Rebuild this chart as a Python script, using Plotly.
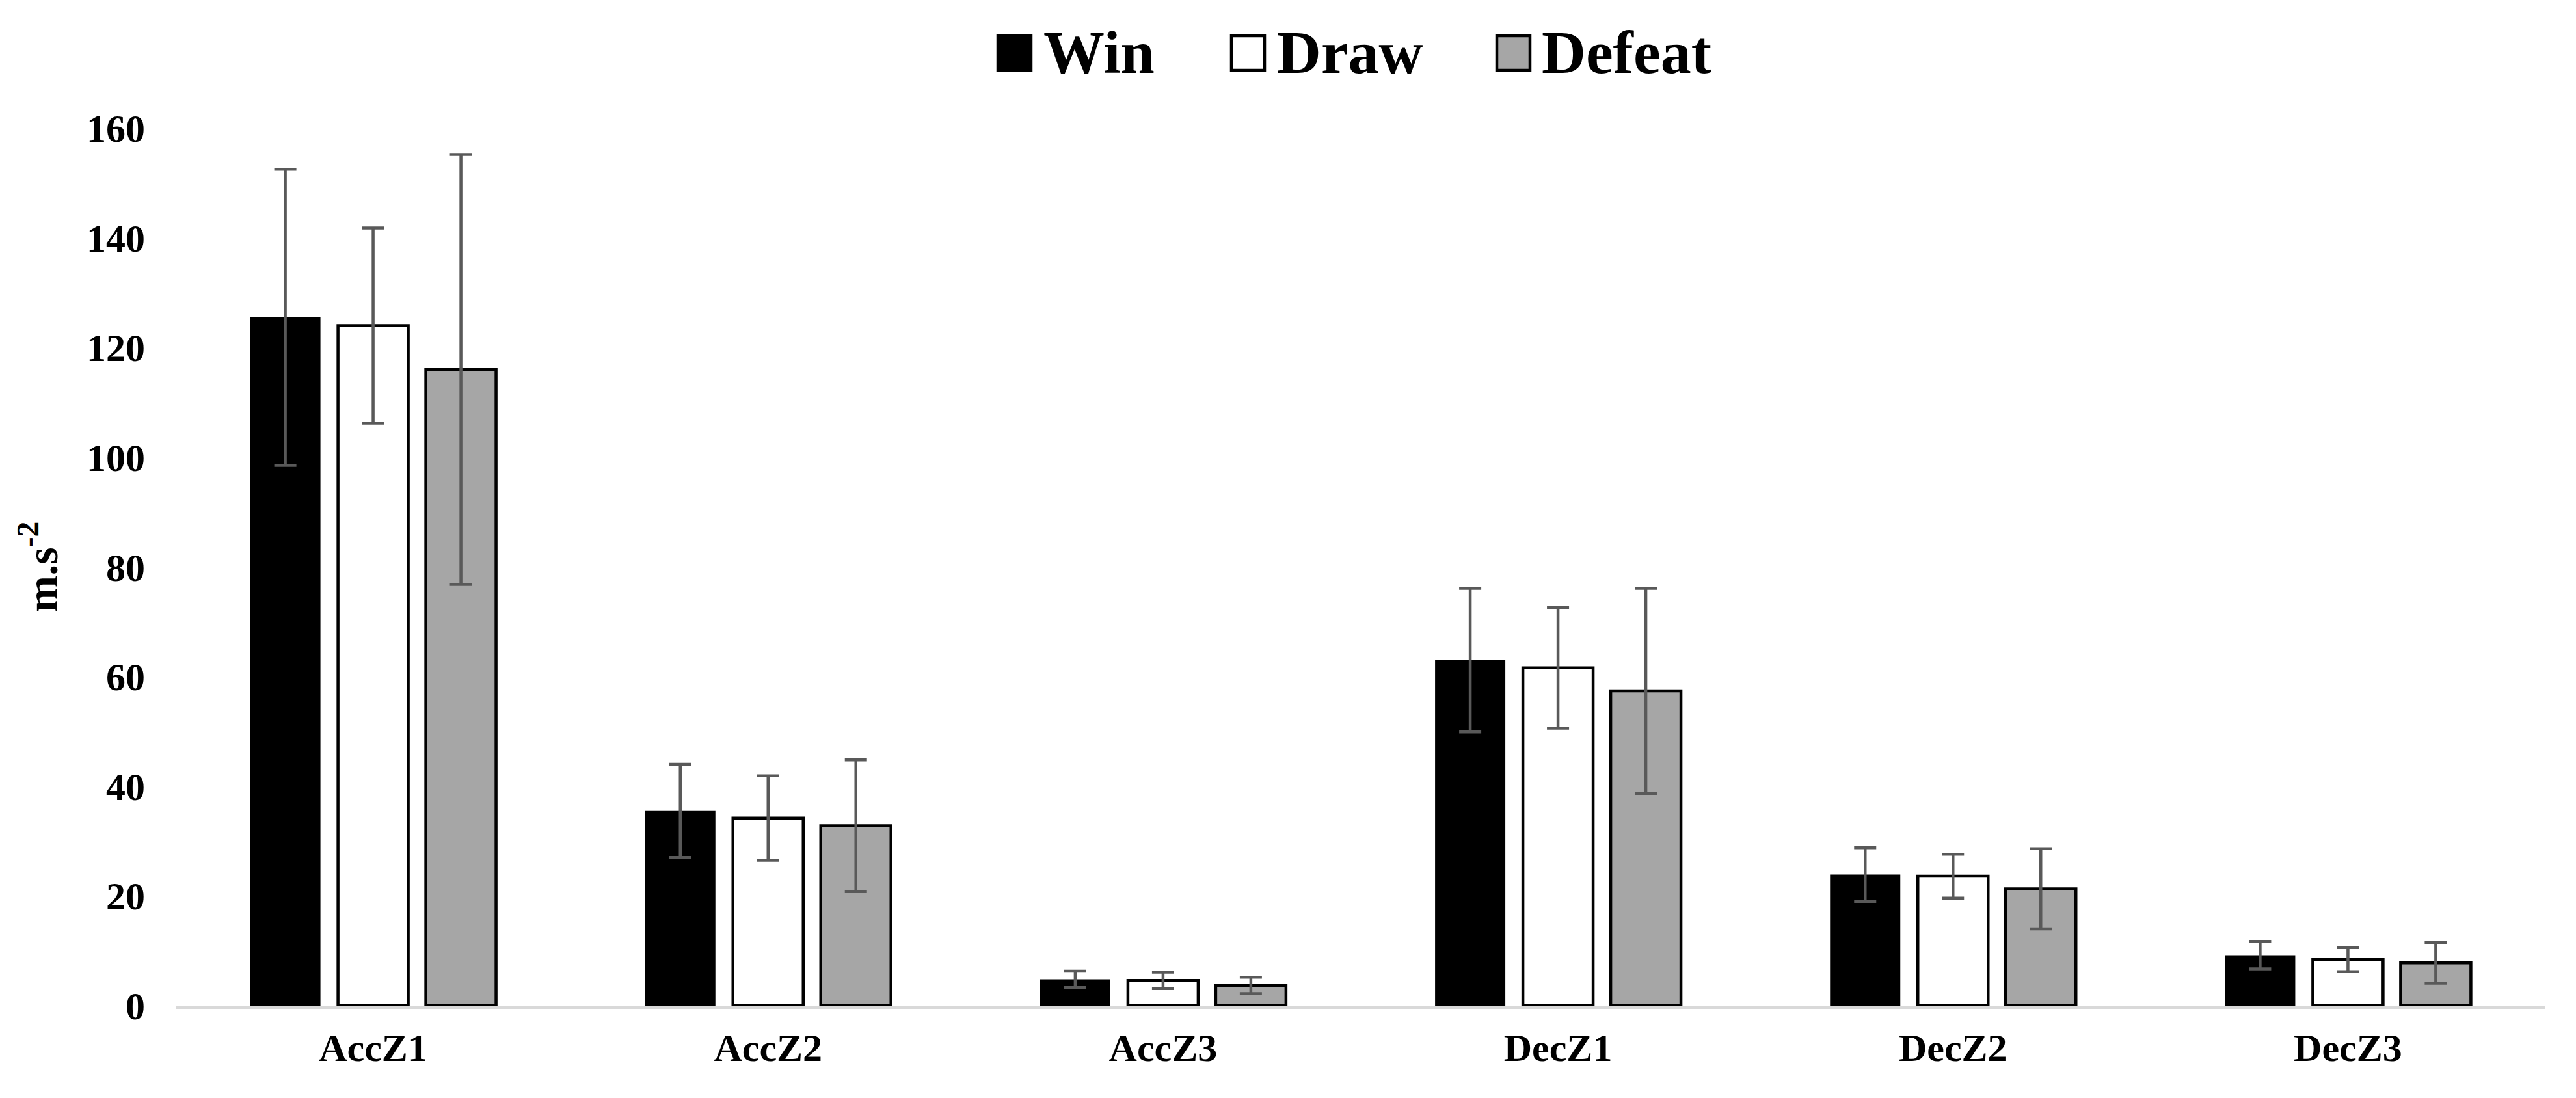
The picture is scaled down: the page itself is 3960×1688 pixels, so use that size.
import plotly.graph_objects as go

categories = ["AccZ1", "AccZ2", "AccZ3", "DecZ1", "DecZ2", "DecZ3"]
win = [125.5, 35.5, 4.8, 63.0, 23.9, 9.2]
win_sd = [27.0, 8.5, 1.5, 13.1, 4.9, 2.5]
draw = [124.0, 34.2, 4.6, 61.6, 23.6, 8.4]
draw_sd = [17.8, 7.7, 1.5, 11.0, 4.0, 2.2]
defeat = [116.0, 32.8, 3.7, 57.4, 21.3, 7.8]
defeat_sd = [39.2, 12.0, 1.5, 18.7, 7.3, 3.7]
series_names = ["Win", "Draw", "Defeat"]
y_ticks = [0, 20, 40, 60, 80, 100, 120, 140, 160]

W, H = 3960, 1688
OFF = 8  # browser default body margin
# target plot area in screenshot pixels: x 270..3913, y 197..1546
L = 270 - OFF
T = 197 - OFF
R = W - (3913 - OFF)
B = H - (1546 - OFF)
FONT = "Liberation Serif, Times New Roman, serif"
ERR_COLOR = "#595959"

fills = ["#000000", "#ffffff", "#a6a6a6"]
lines = [0, 4.5, 4.5]

fig = go.Figure()
for name, vals, sds, fc, lw in zip(series_names, [win, draw, defeat],
                                   [win_sd, draw_sd, defeat_sd], fills, lines):
    fig.add_trace(go.Bar(
        x=categories, y=vals, name=name,
        marker=dict(color=fc, line=dict(color="#000000", width=lw)),
        error_y=dict(type="data", array=sds, visible=True, color=ERR_COLOR,
                     thickness=4.5, width=17),
        showlegend=False,
    ))

pw = W - L - R
ph = H - T - B

def px_x(p):
    # screenshot pixel -> paper fraction
    return (p - OFF - L) / pw

def px_y(p):
    return (H - B - (p - OFF)) / ph

# custom legend (large squares like the original)
legend_items = [
    (1532, 1602, "#000000"),
    (1891, 1961, "#ffffff"),
    (2299, 2368, "#a6a6a6"),
]
shapes = []
annotations = []
for (sq_x, tx, col), name in zip(legend_items, series_names):
    shapes.append(dict(type="rect", xref="paper", yref="paper",
                       x0=px_x(sq_x + 2), x1=px_x(sq_x + 53),
                       y0=px_y(108), y1=px_y(55),
                       fillcolor=col, line=dict(color="#000000", width=4.5)))
    annotations.append(dict(xref="paper", yref="paper", x=px_x(tx), y=px_y(80),
                            xanchor="left", yanchor="middle", showarrow=False,
                            text="<b>%s</b>" % name,
                            font=dict(family=FONT, size=94, color="#000000")))

fig.update_layout(
    width=W, height=H,
    margin=dict(l=L, r=R, t=T, b=B, pad=0),
    paper_bgcolor="white", plot_bgcolor="white",
    barmode="group", bargap=0.333, bargroupgap=0.2,
    font=dict(family=FONT, color="#000000"),
    shapes=shapes, annotations=annotations,
    xaxis=dict(
        showline=True, linecolor="#d9d9d9", linewidth=5,
        ticks="outside", ticklen=8, tickcolor="rgba(0,0,0,0)",
        tickfont=dict(family=FONT, size=60, color="#000000"),
        tickprefix="<b>", ticksuffix="</b>",
        showgrid=False, zeroline=False,
    ),
    yaxis=dict(
        range=[0, 160], tickvals=y_ticks,
        ticktext=["<b>%d</b>" % v for v in y_ticks],
        showline=False, showgrid=False, zeroline=False,
        ticks="outside", ticklen=34, tickcolor="rgba(0,0,0,0)",
        tickfont=dict(family=FONT, size=60, color="#000000"),
        title=dict(text="<b>m.s<sup>-2</sup></b>",
                   font=dict(family=FONT, size=68, color="#000000"),
                   standoff=22),
    ),
)

fig.write_html("out.html")
